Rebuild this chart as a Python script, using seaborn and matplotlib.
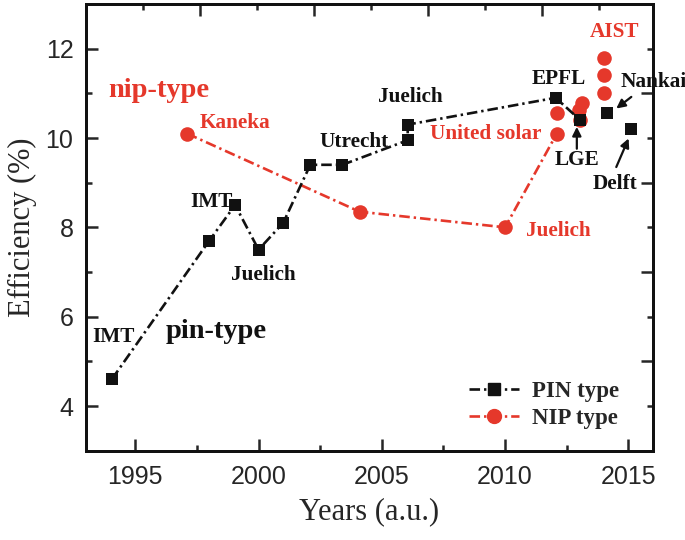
import matplotlib
matplotlib.use("Agg")
import matplotlib.pyplot as plt
import seaborn as sns
import pandas as pd
from matplotlib.lines import Line2D
from matplotlib.ticker import FixedLocator, NullFormatter

# ---------------- data ----------------
pin_line_years = [1994.05, 1998.0, 1999.05, 2000.0, 2001.0, 2002.1, 2003.4, 2006.05, 2006.05, 2012.05, 2013.05]
pin_line_eff   = [4.6, 7.7, 8.5, 7.5, 8.1, 9.4, 9.4, 9.95, 10.3, 10.9, 10.4]
pin_extra_years = [2014.15, 2015.1]
pin_extra_eff   = [10.55, 10.2]

nip_line_years = [1997.1, 2004.1, 2010.0, 2012.1]
nip_line_eff   = [10.1, 8.35, 8.0, 10.1]
nip_extra_years = [2012.1, 2013.05, 2013.0, 2013.1, 2014.0, 2014.0, 2014.0]
nip_extra_eff   = [10.57, 10.4, 10.63, 10.78, 11.0, 11.4, 11.8]

x_ticks = [1995, 2000, 2005, 2010, 2015]
y_ticks = [4, 6, 8, 10, 12]

BLACK = "#111111"
RED = "#e5382b"
DASH = (0, (4.0, 1.5, 0.9, 1.5))

sns.set_theme(style="ticks")
plt.rcParams["font.family"] = ["Liberation Sans", "DejaVu Sans"]
SERIF = ["Liberation Serif", "DejaVu Serif"]

fig = plt.figure(figsize=(6.85, 5.4), dpi=100)
ax = fig.add_axes([0.1255, 0.1654, 0.8278, 0.8272])

pin_line = pd.DataFrame({"year": pin_line_years, "eff": pin_line_eff})
nip_line = pd.DataFrame({"year": nip_line_years, "eff": nip_line_eff})

# NIP first (below), then PIN on top
sns.lineplot(data=nip_line, x="year", y="eff", ax=ax, sort=False, estimator=None,
             color=RED, lw=1.9, linestyle=DASH, zorder=3)
sns.scatterplot(x=nip_line_years + nip_extra_years, y=nip_line_eff + nip_extra_eff, ax=ax,
                marker="o", s=110, color=RED, edgecolor=RED, linewidth=0, zorder=4)
sns.lineplot(data=pin_line, x="year", y="eff", ax=ax, sort=False, estimator=None,
             color=BLACK, lw=1.9, linestyle=DASH, zorder=5)
sns.scatterplot(x=pin_line_years + pin_extra_years, y=pin_line_eff + pin_extra_eff, ax=ax,
                marker="s", s=85, color=BLACK, edgecolor=BLACK, linewidth=0, zorder=6)

ax.set_xlim(1993, 2016)
ax.set_ylim(3, 13)
ax.set_xticks(x_ticks)
ax.set_yticks(y_ticks)
ax.xaxis.set_minor_locator(FixedLocator([1997.5, 2002.5, 2007.5, 2012.5]))
ax.yaxis.set_minor_locator(FixedLocator([5, 7, 9, 11]))
ax.tick_params(which="major", direction="in", length=8.5, width=1.8, labelsize=18, pad=9,
               top=False, right=False)
ax.tick_params(which="minor", direction="in", length=4.3, width=1.8, top=False, right=False)
ax.tick_params(axis="x", pad=10)
for s in ax.spines.values():
    s.set_linewidth(2.0)
    s.set_color(BLACK)
    s.set_visible(True)

ax.set_xlabel("Years (a.u.)", family=SERIF, fontsize=22, labelpad=6)
ax.set_ylabel("Efficiency (%)", family=SERIF, fontsize=22, labelpad=6)

# Top and right decorative ticks (offset scales as in the original)
axt = ax.twiny()
axt.set_xlim(0, 9.95)
axt.xaxis.set_major_locator(FixedLocator([2, 4, 6, 8]))
axt.xaxis.set_minor_locator(FixedLocator([1, 3, 5, 7, 9]))
axt.xaxis.set_major_formatter(NullFormatter())
axt.tick_params(which="major", direction="in", length=8.5, width=1.8)
axt.tick_params(which="minor", direction="in", length=4.3, width=1.8)
axr = ax.twinx()
axr.set_ylim(3, 13)
axr.yaxis.set_major_locator(FixedLocator([5, 7, 9, 11]))
axr.yaxis.set_minor_locator(FixedLocator([4, 6, 8, 10, 12]))
axr.yaxis.set_major_formatter(NullFormatter())
axr.tick_params(which="major", direction="in", length=8.5, width=1.8)
axr.tick_params(which="minor", direction="in", length=4.3, width=1.8)
for a in (axt, axr):
    for s in a.spines.values():
        s.set_linewidth(2.0)
        s.set_color(BLACK)

tkw = dict(family=SERIF, fontweight="bold", fontsize=15.3, va="center")
ax.text(1993.89, 11.07, "nip-type", color=RED, family=SERIF, fontweight="bold", fontsize=20.5, va="center")
ax.text(1996.24, 5.66, "pin-type", color=BLACK, family=SERIF, fontweight="bold", fontsize=20.5, va="center")
ax.text(1997.62, 10.33, "Kaneka", color=RED, ha="left", **tkw)
ax.text(2006.17, 10.91, "Juelich", color=BLACK, ha="center", **tkw)
ax.text(2003.86, 9.91, "Utrecht", color=BLACK, ha="center", **tkw)
ax.text(2006.94, 10.08, "United solar", color=RED, ha="left", **tkw)
ax.text(1998.1, 8.57, "IMT", color=BLACK, ha="center", **tkw)
ax.text(2000.19, 6.93, "Juelich", color=BLACK, ha="center", **tkw)
ax.text(1994.13, 5.55, "IMT", color=BLACK, ha="center", **tkw)
ax.text(2010.85, 7.91, "Juelich", color=RED, ha="left", **tkw)
ax.text(2012.19, 11.33, "EPFL", color=BLACK, ha="center", **tkw)
ax.text(2012.9, 9.5, "LGE", color=BLACK, ha="center", **tkw)
ax.text(2014.44, 12.37, "AIST", color=RED, ha="center", **tkw)
ax.text(2014.67, 11.25, "Nankai", color=BLACK, ha="left", clip_on=False, zorder=1, **tkw)
ax.text(2014.46, 8.98, "Delft", color=BLACK, ha="center", **tkw)

akw = dict(arrowstyle="-|>", color=BLACK, lw=1.6, mutation_scale=13, shrinkA=0, shrinkB=0)
ax.annotate("", xy=(2014.51, 10.66), xytext=(2015.12, 10.92), arrowprops=akw)
ax.annotate("", xy=(2012.91, 10.25), xytext=(2012.91, 9.76), arrowprops=akw)
ax.annotate("", xy=(2015.01, 9.99), xytext=(2014.51, 9.35), arrowprops=akw)

handles = [
    Line2D([], [], color=BLACK, lw=1.9, linestyle=DASH, marker="s", markersize=8.5),
    Line2D([], [], color=RED, lw=1.9, linestyle=DASH, marker="o", markersize=10),
]
ax.legend(handles, ["PIN type", "NIP type"], loc="center left",
          bbox_to_anchor=(0.675, 0.102), frameon=False, borderpad=0, borderaxespad=0,
          handlelength=2.2, handletextpad=0.55, labelspacing=0.25,
          prop={"family": SERIF, "weight": "bold", "size": 16.5})

fig.savefig("out.png", dpi=100)
